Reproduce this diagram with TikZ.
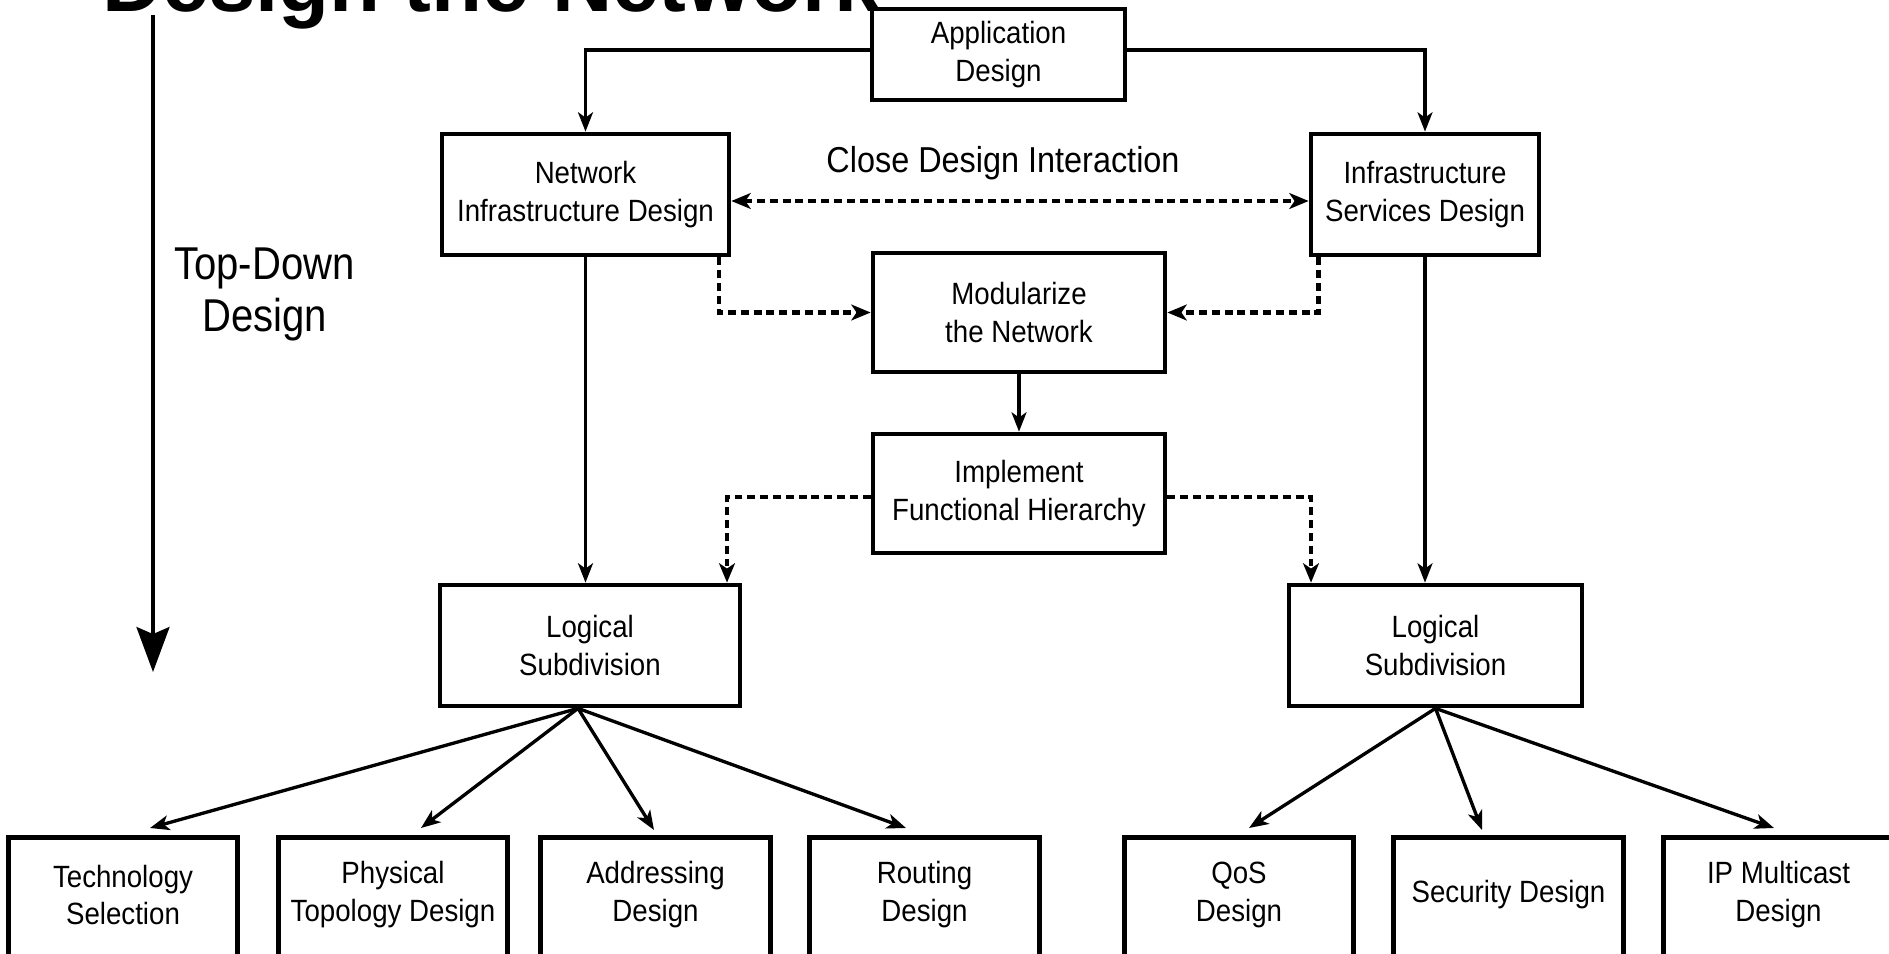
\documentclass[tikz,border=0pt]{standalone}
\usepackage{fontspec}
\setmainfont{Liberation Sans}
\newfontfamily\boxfont{Liberation Sans}[FakeStretch=0.9]
\newfontfamily\sidefont{Liberation Sans}[FakeStretch=0.87]
\usetikzlibrary{arrows.meta}

\begin{document}
\begin{tikzpicture}[x=0.02cm, y=-0.02cm,
  box/.style={draw=black, line width=2.7pt, inner sep=0pt, align=center,
    font=\boxfont\fontsize{17.5pt}{21.6pt}\selectfont},
  openbox/.style={inner sep=0pt, align=center, minimum width=4.58cm, minimum height=2.28cm,
    font=\boxfont\fontsize{17.5pt}{21.6pt}\selectfont},
  frame/.style={line width=2.7pt, line join=miter},
  conn/.style={line width=1.9pt, -{Stealth[length=11pt, width=8.5pt, inset=3pt]}},
  dotconn/.style={line width=2.5pt, dash pattern=on 4.5pt off 2.8pt,
    -{Stealth[length=11pt, width=9pt, inset=3pt]}},
  bigarrow/.style={line width=1.8pt, -{Stealth[length=25.6pt, width=18.8pt, inset=4pt]}}
]
\useasboundingbox (0,0) rectangle (1889,953);
\clip (0,0) rectangle (1889,953);

% heading, running off the upper edge
\node[anchor=base west, inner sep=0pt, font=\bfseries\fontsize{47.5pt}{50pt}\selectfont]
  (title) at (102,12) {Design the Network};

% top-down direction arrow
\coordinate (tdtop) at (153,15);
\coordinate (tdtip) at (153,672);
\draw[bigarrow] (tdtop) -- (tdtip);
\node[align=center, inner sep=0pt, font=\sidefont\fontsize{26.2pt}{29.6pt}\selectfont]
  (tdlabel) at (264.5,294.5) {Top-Down\\Design};

% design boxes
\node[box, minimum width=5.06cm, minimum height=1.82cm] (app) at (998.5,54.5) {Application\\Design};
\node[box, minimum width=5.74cm, minimum height=2.42cm] (nid) at (585.5,194.5) {Network\\Infrastructure Design};
\node[box, minimum width=4.56cm, minimum height=2.42cm] (isd) at (1425,194.5) {Infrastructure\\Services Design};
\node[box, minimum width=5.84cm, minimum height=2.38cm] (mod) at (1019,312.5) {Modularize\\the Network};
\node[box, minimum width=5.84cm, minimum height=2.38cm] (imp) at (1019,493.5) {Implement\\Functional Hierarchy};
\node[box, minimum width=6.00cm, minimum height=2.42cm] (ls1) at (590,645.5) {Logical\\Subdivision};
\node[box, minimum width=5.86cm, minimum height=2.42cm] (ls2) at (1435.5,645.5) {Logical\\Subdivision};

% bottom row (boxes run past the lower edge)
\node[openbox] (tech) at (123,895)   {Technology\\Selection};
\node[openbox] (phys) at (393,895)   {Physical\\Topology Design};
\node[openbox] (addr) at (655.5,895) {Addressing\\Design};
\node[openbox] (rout) at (924.5,895) {Routing\\Design};
\node[openbox] (qos)  at (1239,895)  {QoS\\Design};
\node[openbox] (sec)  at (1508.5,895) {Security Design};
\node[openbox] (ipm)  at (1778.5,895) {IP Multicast\\Design};
\foreach \b in {tech,phys,addr,rout,qos,sec,ipm}
  \draw[frame] ([yshift=-0.4cm]\b.south west) -- (\b.north west) -- (\b.north east) -- ([yshift=-0.4cm]\b.south east);

% application design to the two branches
\coordinate (ya) at (0,50);
\draw[conn] (app.west |- ya) -| (nid.north);
\draw[conn] (app.east |- ya) -| (isd.north);

% close design interaction
\coordinate (yc) at (0,201);
\draw[dotconn, {Stealth[length=11pt, width=9pt, inset=3pt]}-{Stealth[length=11pt, width=9pt, inset=3pt]}]
  (nid.east |- yc) -- (isd.west |- yc);
\node[inner sep=0pt, font=\boxfont\fontsize{20.5pt}{24pt}\selectfont] (cdi) at (1003,163) {Close Design Interaction};

% feeds into modularization
\coordinate (xl) at (719,0);
\coordinate (xr) at (1318.5,0);
\draw[dotconn] (nid.south -| xl) |- (mod.west);
\draw[dotconn] (isd.south -| xr) |- (mod.east);
\draw[conn] (mod.south) -- (imp.north);

% functional hierarchy to both subdivisions
\coordinate (yi) at (0,497);
\coordinate (xil) at (727,0);
\coordinate (xir) at (1311,0);
\draw[dotconn] (imp.west |- yi) -| (ls1.north -| xil);
\draw[dotconn] (imp.east |- yi) -| (ls2.north -| xir);
\draw[conn] (nid.south) -- (nid.south |- ls1.north);
\draw[conn] (isd.south) -- (isd.south |- ls2.north);

% left fan
\coordinate (tTech) at (150,828);
\coordinate (tPhys) at (421,828);
\coordinate (tAddr) at (654,830);
\coordinate (tRout) at (906,828);
\foreach \t in {tTech,tPhys,tAddr,tRout}
  \draw[conn] ([xshift=-0.24cm]ls1.south) -- (\t);

% right fan
\coordinate (tQos) at (1249,828);
\coordinate (tSec) at (1482,830);
\coordinate (tIpm) at (1774,828);
\foreach \t in {tQos,tSec,tIpm}
  \draw[conn] (ls2.south) -- (\t);
\end{tikzpicture}
\end{document}
